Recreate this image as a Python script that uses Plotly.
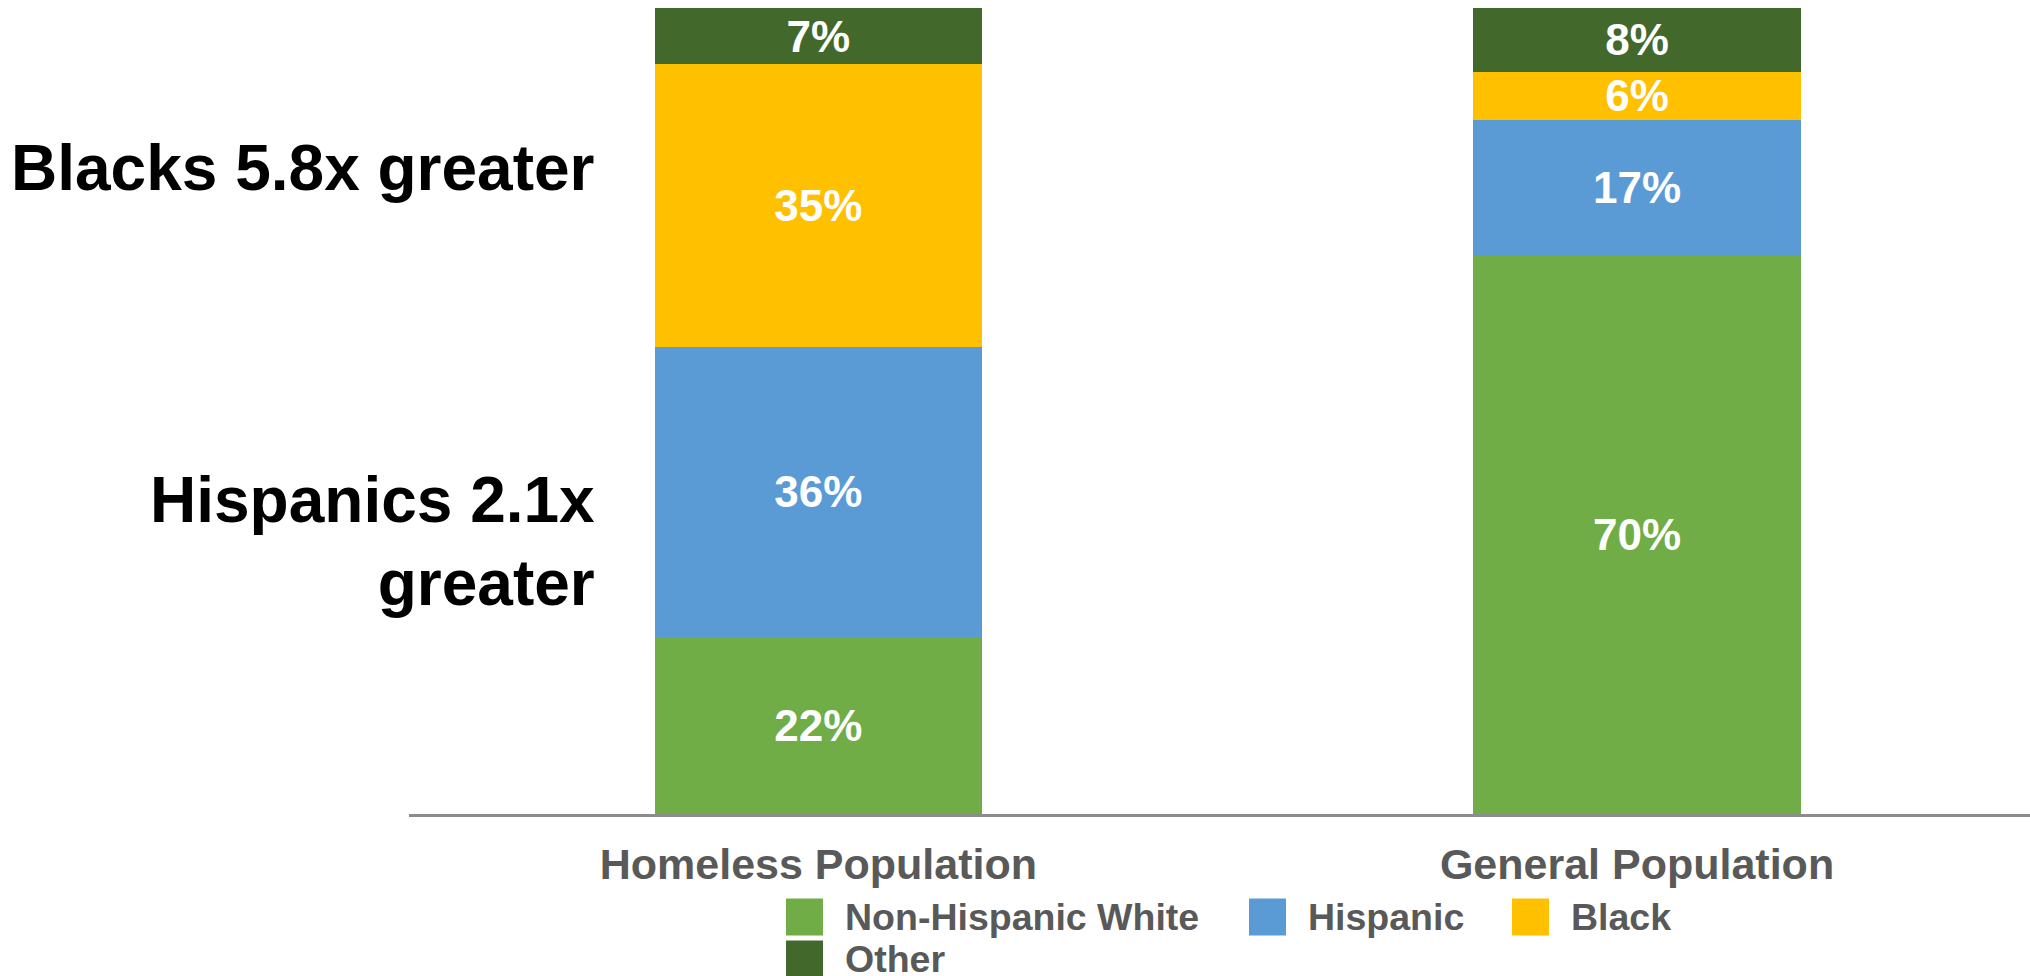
import plotly.graph_objects as go

# Population groups (x categories)
categories = ["Homeless Population", "General Population"]

# Share of each group, stacked bottom to top
series_names = ["Non-Hispanic White", "Hispanic", "Black", "Other"]
white_vals = [22, 70]
hispanic_vals = [36, 17]
black_vals = [35, 6]
other_vals = [7, 8]
series_values = [white_vals, hispanic_vals, black_vals, other_vals]

colors = ["#70AD47", "#5B9BD5", "#FFC000", "#43682B"]

# Callouts on the left side
callouts = ["Blacks 5.8x greater", "Hispanics 2.1x<br>greater"]

FONT = "Liberation Sans, Arial, Helvetica, sans-serif"

# Plot-area geometry in pixels, used to place the paper-referenced extras
W, H = 2030, 976
ML, MR, MT, MB = 409, 0, 8, 162
PW, PH = W - ML - MR, H - MT - MB


def px_x(x):
    return (x - ML) / PW


def px_y(y):
    return (H - MB - y) / PH


fig = go.Figure()
for name, vals, col in zip(series_names, series_values, colors):
    fig.add_trace(go.Bar(
        x=categories,
        y=vals,
        name=name,
        marker=dict(color=col, line=dict(width=0)),
        width=0.4,
        text=[f"<b>{v}%</b>" for v in vals],
        textposition="inside",
        insidetextanchor="middle",
        constraintext="none",
        textfont=dict(family=FONT, size=44, color="white"),
        showlegend=False,
        hoverinfo="skip",
    ))

fig.update_layout(
    barmode="stack",
    barnorm="percent",
    width=W,
    height=H,
    margin=dict(l=ML, r=MR, t=MT, b=MB),
    paper_bgcolor="white",
    plot_bgcolor="white",
    font=dict(family=FONT),
    uniformtext=dict(mode="show", minsize=44),
    xaxis=dict(
        type="category",
        range=[-0.5, 1.48],
        showline=True,
        linecolor="#8C8C8C",
        linewidth=3,
        ticks="",
        showgrid=False,
        zeroline=False,
        tickfont=dict(family=FONT, size=43, color="#595959", weight="bold"),
        ticklabelstandoff=10,
    ),
    yaxis=dict(
        range=[0, 100],
        visible=False,
        showgrid=False,
        zeroline=False,
    ),
)

# Left-hand callouts, right-aligned just left of the first bar
fig.add_annotation(
    text=f"<b>{callouts[0]}</b>", xref="paper", yref="paper",
    x=px_x(597), y=px_y(168), xanchor="right", yanchor="middle",
    showarrow=False, align="right",
    font=dict(family=FONT, size=64, color="black"),
)
fig.add_annotation(
    text=f"<b>{callouts[1]}</b>", xref="paper", yref="paper",
    x=px_x(597), y=px_y(542), xanchor="right", yanchor="middle",
    showarrow=False, align="right",
    font=dict(family=FONT, size=64, color="black"),
)

# Legend: colour swatches with labels, laid out in two rows below the axis
legend_slots = [(786, 917), (1249, 917), (1512, 917), (786, 959)]
sw = 37
for (lx, ly), name, col in zip(legend_slots, series_names, colors):
    fig.add_shape(
        type="rect", xref="paper", yref="paper",
        x0=px_x(lx), x1=px_x(lx + sw),
        y0=px_y(ly + sw / 2), y1=px_y(ly - sw / 2),
        fillcolor=col, line=dict(width=0),
    )
    fig.add_annotation(
        text=f"<b>{name}</b>", xref="paper", yref="paper",
        x=px_x(lx + 57), y=px_y(ly),
        xanchor="left", yanchor="middle", showarrow=False,
        font=dict(family=FONT, size=37.5, color="#595959"),
    )

fig.write_html("out.html")
